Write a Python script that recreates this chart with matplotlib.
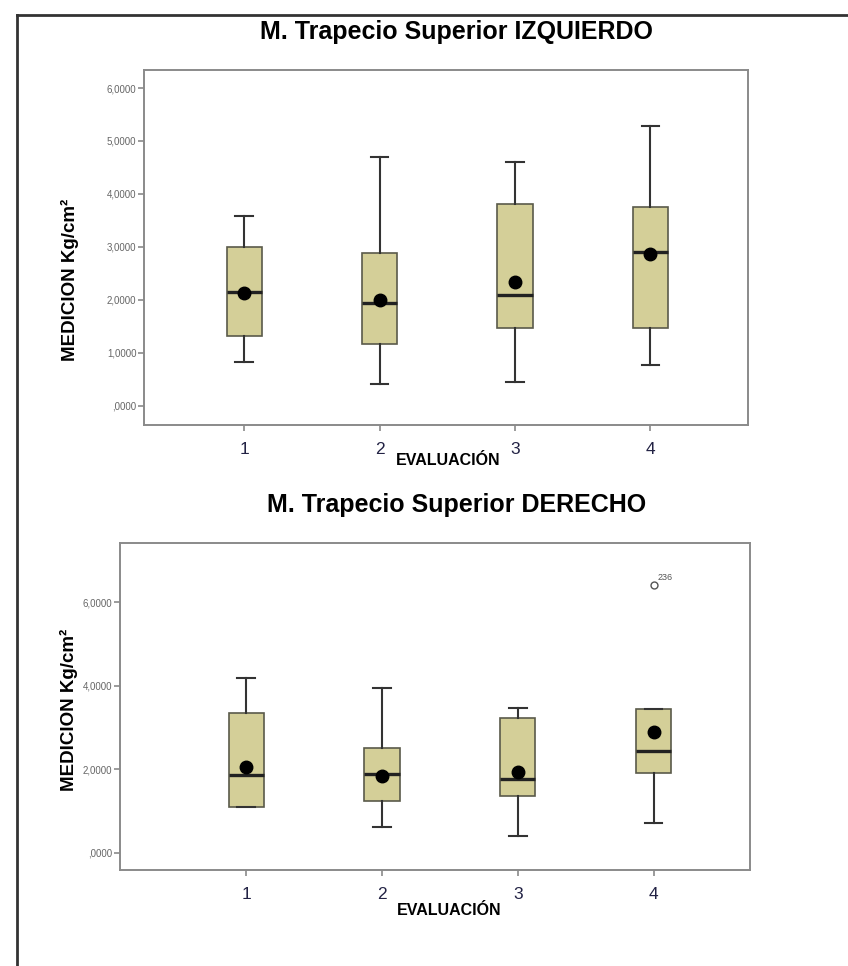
import matplotlib.pyplot as plt
from matplotlib.lines import Line2D

plt.rcParams['font.family'] = ['Liberation Sans', 'DejaVu Sans']

# --------------------------------------------------
# Data
# --------------------------------------------------
evaluaciones = ["1", "2", "3", "4"]

# M. Trapecio Superior IZQUIERDO
izq_whislo = [0.83, 0.42, 0.45, 0.77]
izq_q1 = [1.32, 1.17, 1.47, 1.47]
izq_med = [2.15, 1.94, 2.09, 2.91]
izq_q3 = [3.00, 2.89, 3.81, 3.75]
izq_whishi = [3.58, 4.70, 4.60, 5.28]
izq_mean = [2.14, 2.00, 2.34, 2.87]

# M. Trapecio Superior DERECHO
der_whislo = [1.09, 0.61, 0.40, 0.72]
der_q1 = [1.09, 1.24, 1.35, 1.91]
der_med = [1.86, 1.90, 1.78, 2.44]
der_q3 = [3.36, 2.51, 3.23, 3.45]
der_whishi = [4.18, 3.95, 3.47, 3.45]
der_mean = [2.06, 1.84, 1.93, 2.89]
der_fliers = [[], [], [], [6.41]]
der_flier_ids = [[], [], [], ["236"]]

box_color = "#D4CF98"
edge_color = "#5a5a4a"
frame_color = "#8a8a8a"


def make_stats(lo, q1, med, q3, hi, mean, fliers=None):
    stats = []
    for i in range(len(lo)):
        stats.append(dict(whislo=lo[i], q1=q1[i], med=med[i], q3=q3[i],
                          whishi=hi[i], mean=mean[i],
                          fliers=fliers[i] if fliers else []))
    return stats


def fmt(v):
    s = f"{v:.4f}".replace(".", ",")
    if s.startswith("0,"):
        s = s[1:]
    return s


def draw_panel(ax, stats, title, yticks, ylim, xlim, title_x, xlabel_xy, ylabel_xy):
    pos = list(range(1, len(stats) + 1))
    ax.bxp(stats, positions=pos, widths=0.26, patch_artist=True,
           showmeans=True, showfliers=True,
           boxprops=dict(facecolor=box_color, edgecolor=edge_color, linewidth=1.2),
           medianprops=dict(color="#222222", linewidth=2.4),
           whiskerprops=dict(color="#333333", linewidth=1.5),
           capprops=dict(color="#333333", linewidth=1.5),
           meanprops=dict(marker="o", markerfacecolor="black", markeredgecolor="black",
                          markersize=9),
           flierprops=dict(marker="o", markerfacecolor="none", markeredgecolor="#555555",
                           markersize=5, markeredgewidth=1.0))
    ax.set_xlim(*xlim)
    ax.set_ylim(*ylim)
    ax.set_xticks(pos)
    ax.set_xticklabels(evaluaciones, fontsize=12.5, color="#222244")
    ax.set_yticks(yticks)
    ax.set_yticklabels([fmt(v) for v in yticks], fontsize=7, color="#666666")
    for s in ax.spines.values():
        s.set_color(frame_color)
        s.set_linewidth(1.4)
    ax.tick_params(axis="both", length=4, width=1.2, color=frame_color, pad=1.5)
    ax.tick_params(axis="x", pad=8)
    ax.set_title(title, fontsize=18, fontweight="bold", pad=22, x=title_x)
    ax.set_xlabel("EVALUACIÓN", fontsize=11.5, fontweight="bold")
    ax.xaxis.set_label_coords(*xlabel_xy)
    ax.set_ylabel("MEDICION Kg/cm²", fontsize=13.5, fontweight="bold")
    ax.yaxis.set_label_coords(*ylabel_xy)


fig = plt.figure(figsize=(8.48, 9.66), dpi=100)

# outer frame
fig.add_artist(Line2D([17 / 848, 17 / 848], [0, 1 - 15 / 966], color="#333333", linewidth=2))
fig.add_artist(Line2D([17 / 848, 1], [1 - 15 / 966, 1 - 15 / 966], color="#333333", linewidth=2))

ax1 = fig.add_axes([144 / 848, 1 - 425 / 966, 604 / 848, 355 / 966])
draw_panel(ax1, make_stats(izq_whislo, izq_q1, izq_med, izq_q3, izq_whishi, izq_mean),
           "M. Trapecio Superior IZQUIERDO",
           [0, 1, 2, 3, 4, 5, 6], (-0.36, 6.34), (0.26, 4.72),
           0.517, (0.503, -0.08), (-0.108, 0.41))

ax2 = fig.add_axes([120 / 848, 1 - 870 / 966, 630 / 848, 327 / 966])
draw_panel(ax2, make_stats(der_whislo, der_q1, der_med, der_q3, der_whishi, der_mean, der_fliers),
           "M. Trapecio Superior DERECHO",
           [0, 2, 4, 6], (-0.41, 7.42), (0.07, 4.71),
           0.535, (0.522, -0.10), (-0.067, 0.49))

# outlier case label
for i, ids in enumerate(der_flier_ids):
    for v, lab in zip(der_fliers[i], ids):
        ax2.annotate(lab, (i + 1, v), xytext=(3, 4), textcoords="offset points",
                     fontsize=6.5, color="#555555")

fig.savefig("out.png", dpi=100)
